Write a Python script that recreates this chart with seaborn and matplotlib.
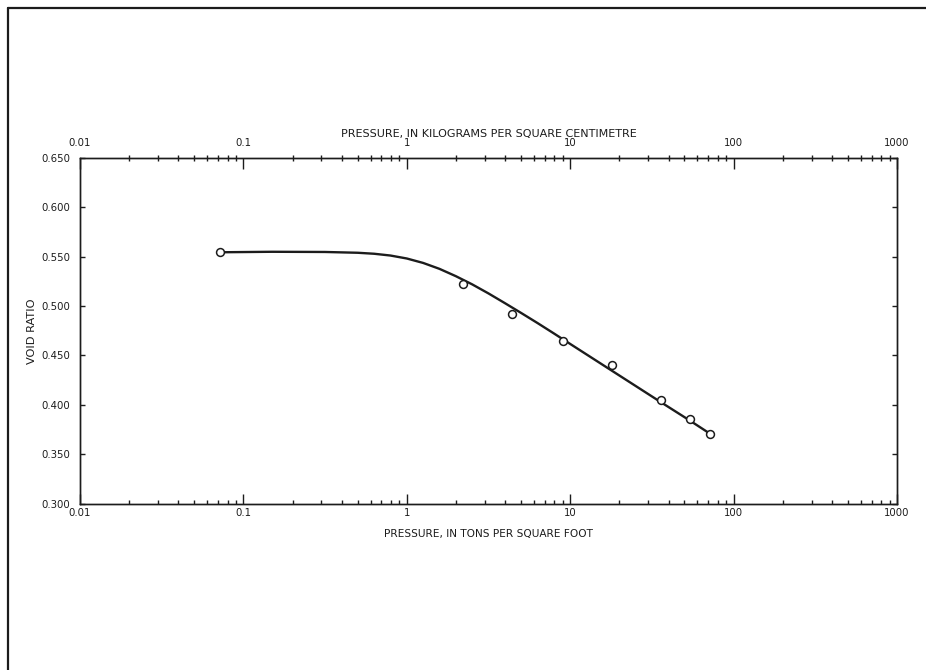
import numpy as np
import pandas as pd
import matplotlib
matplotlib.use("Agg")
import matplotlib.pyplot as plt
import seaborn as sns
from matplotlib.lines import Line2D
from matplotlib.ticker import LogLocator, NullFormatter, FixedLocator, FixedFormatter

# test points (pressure in tons/sq ft, void ratio)
pressure = [0.072, 2.2, 4.4, 9.0, 18.0, 36.0, 54.0, 72.0]
void_ratio = [0.5545, 0.5225, 0.492, 0.4645, 0.4405, 0.405, 0.386, 0.370]

# hand drawn curve
curve_p = [0.072, 0.15, 0.316, 0.501, 0.631, 0.794, 1.0, 1.259, 1.585, 1.995, 2.512, 3.162,
           3.981, 5.012, 6.31, 7.943, 9.0, 18.0, 36.0, 54.0, 72.8]
curve_e = [0.5545, 0.5550, 0.5548, 0.5540, 0.5530, 0.5512, 0.5482, 0.5437, 0.5377, 0.5303,
           0.5220, 0.5128, 0.5030, 0.4930, 0.4828, 0.4723, 0.4665, 0.4345, 0.4025, 0.3840, 0.3700]

x_ticks = [0.01, 0.1, 1, 10, 100, 1000]
x_labels = ["0.01", "0.1", "1", "10", "100", "1000"]
y_ticks = [0.300, 0.350, 0.400, 0.450, 0.500, 0.550, 0.600, 0.650]
y_labels = ["0.300", "0.350", "0.400", "0.450", "0.500", "0.550", "0.600", "0.650"]

pts = pd.DataFrame({"p": pressure, "e": void_ratio})
crv = pd.DataFrame({"p": curve_p, "e": curve_e})

sns.set_style("ticks")
plt.rcParams["font.family"] = ["DejaVu Sans"]
ink = "#1c1c1c"
fs = 7.3

fig = plt.figure(figsize=(9.26, 6.70), dpi=100)
ax = fig.add_axes([80 / 926, 1 - 503.5 / 670, (897 - 80) / 926, (503.5 - 158) / 670])

sns.lineplot(data=crv, x="p", y="e", ax=ax, color=ink, linewidth=1.7, sort=False)
sns.scatterplot(data=pts, x="p", y="e", ax=ax, marker="o", s=32, facecolor="white",
                edgecolor=ink, linewidth=1.1, zorder=3)

ax.set_xscale("log")
ax.set_xlim(0.01, 1000)
ax.set_ylim(0.300, 0.650)
ax.xaxis.set_major_locator(FixedLocator(x_ticks))
ax.xaxis.set_major_formatter(FixedFormatter(x_labels))
ax.xaxis.set_minor_locator(LogLocator(base=10, subs=np.arange(2, 10), numticks=20))
ax.xaxis.set_minor_formatter(NullFormatter())
ax.yaxis.set_major_locator(FixedLocator(y_ticks))
ax.yaxis.set_major_formatter(FixedFormatter(y_labels))

for s in ax.spines.values():
    s.set_color(ink)
    s.set_linewidth(1.0)

ax.tick_params(axis="x", which="major", direction="in", length=7, width=1.0, color=ink,
               labelsize=fs, labelcolor=ink, pad=3)
ax.tick_params(axis="x", which="minor", direction="in", length=3, width=1.0, color=ink)
ax.tick_params(axis="y", which="major", direction="in", length=3.5, width=1.0, color=ink,
               labelsize=fs, labelcolor=ink, pad=7, right=True)
ax.set_xlabel("PRESSURE, IN TONS PER SQUARE FOOT", fontsize=7.6, color=ink, labelpad=8)
ax.set_ylabel("VOID RATIO", fontsize=8.2, color=ink, labelpad=3)

# top scale, same log range
top = ax.twiny()
top.set_xscale("log")
top.set_xlim(0.01, 1000)
top.xaxis.set_major_locator(FixedLocator(x_ticks))
top.xaxis.set_major_formatter(FixedFormatter(x_labels))
top.xaxis.set_minor_locator(LogLocator(base=10, subs=np.arange(2, 10), numticks=20))
top.xaxis.set_minor_formatter(NullFormatter())
top.tick_params(axis="x", which="major", direction="in", length=8, width=1.0, color=ink,
                labelsize=fs, labelcolor=ink, pad=7)
top.tick_params(axis="x", which="minor", direction="inout", length=5, width=1.0, color=ink)
top.set_xlabel("PRESSURE, IN KILOGRAMS PER SQUARE CENTIMETRE", fontsize=8.0, color=ink, labelpad=1)
for s in top.spines.values():
    s.set_color(ink)
    s.set_linewidth(1.0)

# page border (left and top edges of the scanned sheet)
fig.add_artist(Line2D([7.5 / 926, 1.0], [1 - 7.5 / 670, 1 - 7.5 / 670], transform=fig.transFigure,
                      color=ink, linewidth=1.6))
fig.add_artist(Line2D([7.5 / 926, 7.5 / 926], [0.0, 1 - 7.5 / 670], transform=fig.transFigure,
                      color=ink, linewidth=1.6))

fig.savefig("out.png", dpi=100, facecolor="white")
